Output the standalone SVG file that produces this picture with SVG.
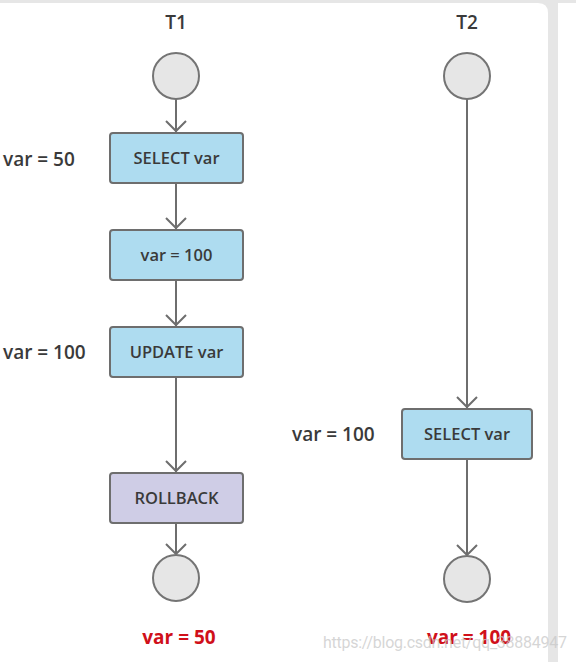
<svg xmlns="http://www.w3.org/2000/svg" width="576" height="662" viewBox="0 0 576 662">
<style>
.bg{fill:#ffffff}
.edge{fill:#e6e6e6}
.box{fill:#aedcf0;stroke:#6e6e6e;stroke-width:2}
.rb{fill:#cfcde6;stroke:#6e6e6e;stroke-width:2}
.circ{fill:#e6e6e6;stroke:#747474;stroke-width:2}
.ln{stroke:#6e6e6e;stroke-width:2;fill:none}
.t{font-family:"Open Sans","Liberation Sans",sans-serif;font-weight:600;fill:#3a3a3a;text-anchor:middle}
.bt{font-size:16.5px}
.lab{font-size:19px}
.ls{text-anchor:start}
.red{font-family:"Open Sans","Liberation Sans",sans-serif;font-weight:700;font-size:19px;fill:#d0101a;text-anchor:middle}
.wm{font-family:"Roboto","Liberation Sans",sans-serif;font-size:16px;fill:#c8c8c8;fill-opacity:0.75}
</style>
<defs>
<path id="ah" d="M-10,-10 L0,0 L10,-10" fill="none" stroke="#6e6e6e" stroke-width="2"/>
</defs>
<rect class="bg" x="0" y="0" width="576" height="662"/>
<rect class="edge" x="0" y="0" width="576" height="3"/>
<path class="edge" d="M538,3 Q548,3 548,13 L548,662 L558,662 L558,0 L538,0 Z"/>
<g id="connectors">
<line class="ln" x1="176" y1="99" x2="176" y2="132"/>
<use href="#ah" x="176" y="131"/>
<line class="ln" x1="176" y1="184" x2="176" y2="229"/>
<use href="#ah" x="176" y="228"/>
<line class="ln" x1="176" y1="281" x2="176" y2="326"/>
<use href="#ah" x="176" y="325"/>
<line class="ln" x1="176" y1="378" x2="176" y2="472"/>
<use href="#ah" x="176" y="471"/>
<line class="ln" x1="176" y1="524" x2="176" y2="555"/>
<use href="#ah" x="176" y="554"/>
<line class="ln" x1="467" y1="99" x2="467" y2="408"/>
<use href="#ah" x="467" y="407"/>
<line class="ln" x1="467" y1="460" x2="467" y2="556"/>
<use href="#ah" x="467" y="555"/>
</g>
<g id="t1-title"><text class="t lab" x="176" y="29">T1</text></g>
<g id="t2-title"><text class="t lab" x="467" y="29">T2</text></g>
<g id="t1-start"><circle class="circ" cx="176" cy="76" r="23"/></g>
<g id="t1-select"><rect class="box" x="110" y="133" width="133" height="50" rx="3"/><text class="t bt" x="176.5" y="164">SELECT var</text></g>
<g id="t1-set"><rect class="box" x="110" y="230" width="133" height="50" rx="3"/><text class="t bt" x="176.5" y="261">var = 100</text></g>
<g id="t1-update"><rect class="box" x="110" y="327" width="133" height="50" rx="3"/><text class="t bt" x="176.5" y="358">UPDATE var</text></g>
<g id="t1-rollback"><rect class="rb" x="110" y="473" width="133" height="50" rx="3"/><text class="t bt" x="176.5" y="504">ROLLBACK</text></g>
<g id="t1-end"><circle class="circ" cx="176" cy="578" r="23"/></g>
<g id="t2-start"><circle class="circ" cx="467" cy="76" r="23"/></g>
<g id="t2-select"><rect class="box" x="402" y="409" width="130" height="50" rx="3"/><text class="t bt" x="467" y="440">SELECT var</text></g>
<g id="t2-end"><circle class="circ" cx="467" cy="579" r="23"/></g>
<g id="labels">
<text class="t lab ls" x="3" y="166">var = 50</text>
<text class="t lab ls" x="3" y="359">var = 100</text>
<text class="t lab ls" x="292" y="441">var = 100</text>
<text class="red" x="179" y="644">var = 50</text>
<text class="red" x="469" y="644">var = 100</text>
</g>
<text class="wm" x="323" y="648" textLength="244">https://blog.csdn.net/qq_38884947</text>
</svg>
